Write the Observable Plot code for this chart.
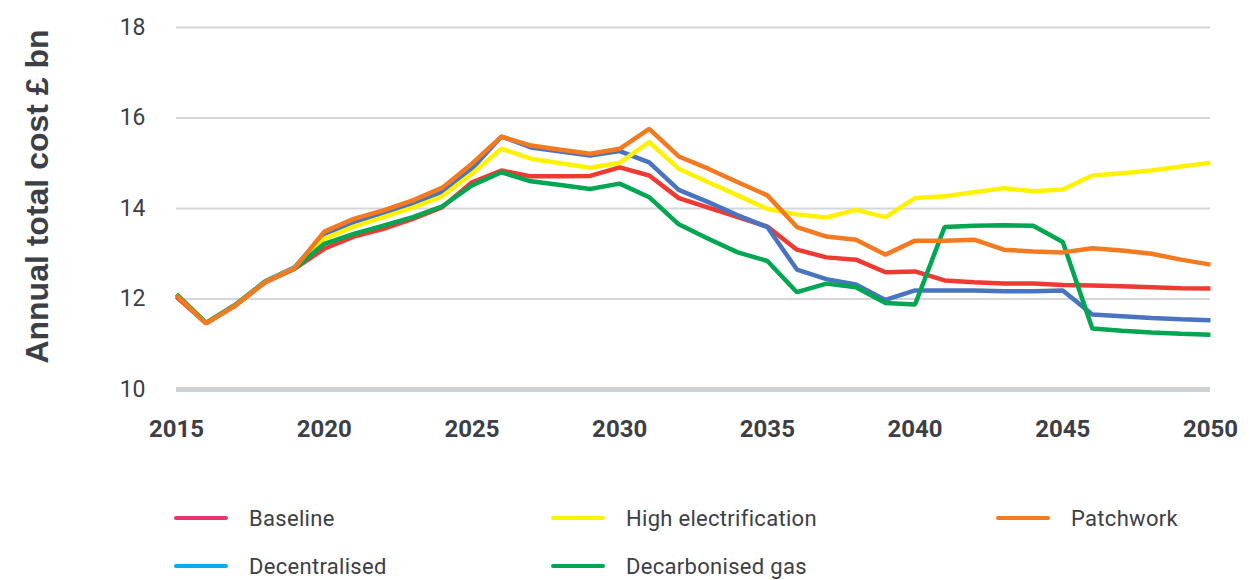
<!DOCTYPE html>
<html>
<head>
<meta charset="utf-8">
<script src="https://cdn.jsdelivr.net/npm/d3@7"></script>
<script src="https://cdn.jsdelivr.net/npm/@observablehq/plot@0.6"></script>
<style>
  html, body { margin: 0; padding: 0; background: #fff; }
  body { width: 1250px; height: 580px; overflow: hidden; font-family: Roboto, "Noto Sans", sans-serif; }
  #chart svg { display: block; }
  .legend { position: relative; height: 100px; }
  .item { position: absolute; display: flex; align-items: center; font-size: 22px; letter-spacing: 0.3px; color: #3c4046; white-space: nowrap; }
  .sw { width: 54px; height: 4px; border-radius: 2px; margin-right: 21px; }
</style>
</head>
<body>
<div id="chart"></div>
<div class="legend" id="legend"></div>
<script>
const years = d3.range(2015, 2051);
const seriesNames = ["Baseline", "High electrification", "Patchwork", "Decentralised", "Decarbonised gas"];
const baseline = [12.05, 11.46, 11.86, 12.37, 12.67, 13.11, 13.38, 13.55, 13.77, 14.03,
  14.58, 14.84, 14.71, 14.71, 14.72, 14.91, 14.73, 14.23, 14.02, 13.81,
  13.60, 13.09, 12.92, 12.87, 12.59, 12.61, 12.41, 12.37, 12.34, 12.34,
  12.31, 12.30, 12.28, 12.26, 12.24, 12.23];
const highElectrification = [12.10, 11.47, 11.87, 12.38, 12.68, 13.33, 13.60, 13.81, 14.02, 14.27,
  14.77, 15.32, 15.10, 15.00, 14.90, 15.01, 15.47, 14.88, 14.58, 14.29,
  13.99, 13.87, 13.80, 13.97, 13.81, 14.23, 14.27, 14.36, 14.45, 14.38,
  14.42, 14.73, 14.78, 14.84, 14.93, 15.01];
const patchwork = [12.08, 11.46, 11.86, 12.37, 12.68, 13.49, 13.77, 13.96, 14.18, 14.46,
  14.99, 15.59, 15.39, 15.30, 15.21, 15.32, 15.76, 15.15, 14.88, 14.58,
  14.29, 13.59, 13.38, 13.31, 12.98, 13.29, 13.29, 13.31, 13.09, 13.05,
  13.03, 13.12, 13.07, 13.00, 12.87, 12.76];
const decentralised = [12.10, 11.47, 11.88, 12.39, 12.70, 13.44, 13.70, 13.88, 14.10, 14.36,
  14.88, 15.59, 15.35, 15.26, 15.17, 15.27, 15.02, 14.41, 14.14, 13.85,
  13.59, 12.65, 12.44, 12.32, 11.98, 12.19, 12.19, 12.19, 12.17, 12.17,
  12.19, 11.66, 11.62, 11.58, 11.55, 11.53];
const decarbonisedGas = [12.10, 11.47, 11.87, 12.38, 12.67, 13.22, 13.44, 13.62, 13.81, 14.05,
  14.51, 14.80, 14.60, 14.52, 14.43, 14.55, 14.25, 13.65, 13.33, 13.03,
  12.84, 12.15, 12.34, 12.26, 11.91, 11.88, 13.59, 13.62, 13.63, 13.62,
  13.26, 11.35, 11.30, 11.26, 11.23, 11.21];
const yTicks = [10, 12, 14, 16, 18];
const xTicks = [2015, 2020, 2025, 2030, 2035, 2040, 2045, 2050];
const yLabel = "Annual total cost £ bn";

const lineColors = {
  "Baseline": "#ee3a33",
  "High electrification": "#fff200",
  "Patchwork": "#f37a21",
  "Decentralised": "#4a74bf",
  "Decarbonised gas": "#00a651"
};
const legendColors = {
  "Baseline": "#e8336d",
  "High electrification": "#fff200",
  "Patchwork": "#f37a21",
  "Decentralised": "#00aeef",
  "Decarbonised gas": "#00a651"
};

const valuesByName = {
  "Baseline": baseline,
  "High electrification": highElectrification,
  "Patchwork": patchwork,
  "Decentralised": decentralised,
  "Decarbonised gas": decarbonisedGas
};
const drawOrder = ["Baseline", "Decentralised", "High electrification", "Decarbonised gas", "Patchwork"];
const rows = drawOrder.flatMap(name => years.map((y, i) => ({series: name, year: y, value: valuesByName[name][i]})));

const plot = Plot.plot({
  width: 1250,
  height: 480,
  marginLeft: 176,
  marginRight: 40,
  marginTop: 27,
  marginBottom: 91,
  style: {fontFamily: "Roboto, 'Noto Sans', sans-serif", background: "#fff"},
  x: {domain: [2015, 2050]},
  y: {domain: [10, 18]},
  color: {domain: seriesNames, range: seriesNames.map(n => lineColors[n])},
  marks: [
    Plot.ruleY(yTicks.filter(t => t !== 10), {stroke: "#d4d7da", strokeWidth: 2}),
    Plot.ruleY([10], {stroke: "#cdd1d4", strokeWidth: 5}),
    Plot.axisY({ticks: yTicks, tickSize: 0, tickPadding: 31, fontSize: 23, fill: "#3c4046", label: null}),
    Plot.text([yLabel], {text: d => d, frameAnchor: "left", textAnchor: "middle", dx: -139, dy: -12, rotate: -90,
      fontSize: 32, fontWeight: "bold", fontFamily: "'Liberation Sans', Arial, sans-serif", fill: "#3c4046"}),
    Plot.axisX({ticks: xTicks, tickSize: 0, tickPadding: 30, tickFormat: d3.format("d"),
      fontSize: 24, fontWeight: "bold", fill: "#3c4046", label: null}),
    Plot.line(rows, {x: "year", y: "value", z: "series", stroke: "series", strokeWidth: 4.5,
      strokeLinejoin: "miter", strokeLinecap: "butt"})
  ]
});
document.getElementById("chart").append(plot);

const legendLayout = [
  ["Baseline", 174, 38], ["High electrification", 551, 38], ["Patchwork", 996, 38],
  ["Decentralised", 174, 86], ["Decarbonised gas", 551, 86]
];
const legend = document.getElementById("legend");
for (const [name, left, top] of legendLayout) {
  const item = document.createElement("div");
  item.className = "item";
  item.style.left = left + "px";
  item.style.top = (top - 14) + "px";
  item.style.height = "28px";
  const sw = document.createElement("span");
  sw.className = "sw";
  sw.style.background = legendColors[name];
  const tx = document.createElement("span");
  tx.textContent = name;
  item.append(sw, tx);
  legend.append(item);
}
</script>
</body>
</html>
